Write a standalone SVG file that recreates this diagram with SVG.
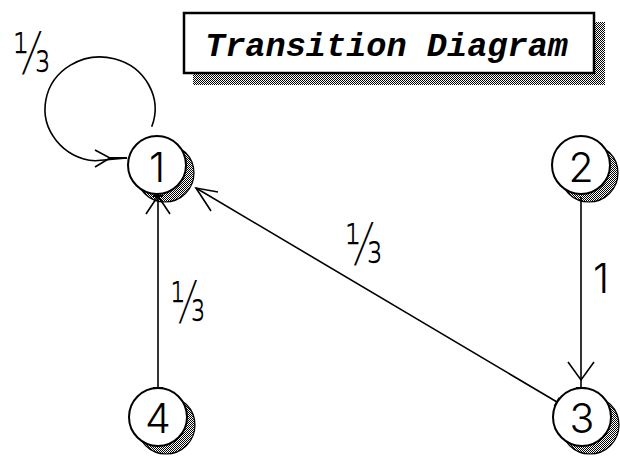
<svg xmlns="http://www.w3.org/2000/svg" width="620" height="456" viewBox="0 0 620 456">
<style>
.circ{fill:#fff;stroke:#000;stroke-width:2}
.shad{fill:url(#dither);stroke:#000;stroke-width:1.2}
.num{font-family:Inter,"Liberation Sans",sans-serif;font-weight:300;font-size:41px;fill:#000;text-anchor:middle}
.frac{font-family:"DejaVu Sans",sans-serif;font-weight:200;font-size:46px;fill:#000}
.edge{fill:none;stroke:#000;stroke-width:1.6}
.tick{fill:none;stroke:#000;stroke-width:2}
.title{font-family:"Liberation Mono",monospace;font-style:italic;font-weight:bold;font-size:34px;fill:#000}
</style>
<defs>
<pattern id="dither" width="2" height="2" patternUnits="userSpaceOnUse">
<rect width="2" height="2" fill="#fff"/>
<rect width="1" height="1" fill="#000"/>
<rect x="1" y="1" width="1" height="1" fill="#000"/>
</pattern>
</defs>
<rect width="620" height="456" fill="#fff"/>

<g id="title">
<rect x="193" y="22" width="412" height="63" fill="url(#dither)"/>
<rect x="184" y="13" width="410" height="60" fill="#fff" stroke="#000" stroke-width="2.5"/>
<text class="title" x="205" y="56" textLength="363" lengthAdjust="spacingAndGlyphs">Transition Diagram</text>
</g>

<g id="node1">
<circle class="shad" cx="165" cy="173" r="29"/>
<circle class="circ" cx="157" cy="165" r="29"/>
<text class="num" x="157" y="182">1</text>
</g>
<g id="node2">
<circle class="shad" cx="589" cy="173" r="29"/>
<circle class="circ" cx="581" cy="165" r="29"/>
<text class="num" x="581" y="182">2</text>
</g>
<g id="node3">
<circle class="shad" cx="590" cy="425" r="29"/>
<circle class="circ" cx="582" cy="417" r="29"/>
<text class="num" x="582" y="433">3</text>
</g>
<g id="node4">
<circle class="shad" cx="166" cy="425" r="29"/>
<circle class="circ" cx="158" cy="417" r="29"/>
<text class="num" x="158" y="433">4</text>
</g>

<g id="connectors">
<g id="e1_1">
<path class="edge" d="M151.7,126.8 A55,52 0 1 0 95.2,160.8 L127,158"/>
<path class="tick" d="M110,158 L127,158"/>
<path class="edge" d="M95,150 L110,158 L95,167"/>
</g>
<g id="e4_1">
<path class="edge" d="M158,388 L158,196"/>
<path class="tick" d="M153,388 L163,388 M153,196 L163,196"/>
<path class="edge" d="M146,214 L158,196 L170,214"/>
</g>
<g id="e2_3">
<path class="edge" d="M581,197 L581,388"/>
<path class="tick" d="M576,388 L586,388"/>
<path class="edge" d="M568,362 L581,380 L594,362"/>
</g>
<g id="e3_1">
<path class="edge" d="M557,402 L196,188"/>
<path class="tick" d="M554.5,406.3 L559.5,397.7"/>
<path class="edge" d="M218,192 L196,188 L211,211"/>
</g>
</g>

<g id="labels">
<text class="frac" transform="translate(13,74) scale(0.84,1.25)">⅓</text>
<text class="frac" transform="translate(345,265) scale(0.84,1.25)">⅓</text>
<text class="frac" transform="translate(170.5,322.5) scale(0.78,1.25)">⅓</text>
<text class="num" style="text-anchor:start" font-size="49" x="593" y="293">1</text>
</g>
</svg>
